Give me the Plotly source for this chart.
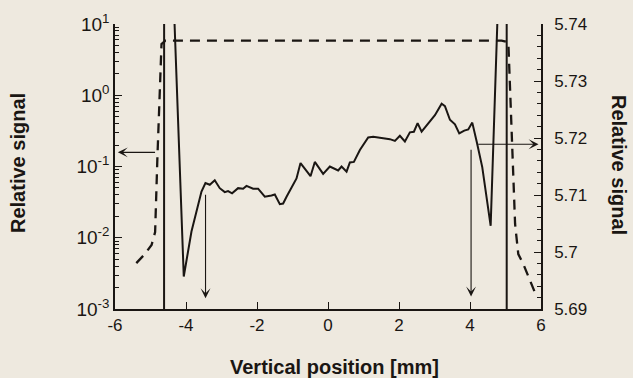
import math
import plotly.graph_objects as go

# Solid profile (right axis, linear scale)
solid_x = [-4.62, -4.615, -4.063, -3.846, -3.564, -3.452, -3.330, -3.190, -3.049, -2.908,
           -2.815, -2.702, -2.533, -2.392, -2.296, -2.110, -1.969, -1.780, -1.591, -1.498,
           -1.357, -1.264, -1.168, -1.027, -0.887, -0.774, -0.492, -0.371, -0.137, 0.052,
           0.145, 0.286, 0.382, 0.523, 0.616, 0.729, 0.898, 1.132, 1.273, 1.555,
           1.743, 1.885, 2.025, 2.166, 2.307, 2.420, 2.524, 2.637, 2.823, 3.012,
           3.201, 3.294, 3.435, 3.576, 3.697, 3.838, 3.951, 4.064, 4.188, 4.345,
           4.582, 5.033, 5.035]
solid_y = [5.60, 5.79, 5.6957, 5.7036, 5.7106, 5.7121, 5.7118, 5.7126, 5.7112, 5.7105,
           5.7107, 5.7103, 5.7112, 5.7111, 5.7116, 5.7111, 5.7111, 5.7097, 5.7099, 5.7101,
           5.7084, 5.7085, 5.7097, 5.7112, 5.7129, 5.7156, 5.7133, 5.7158, 5.7137, 5.7150,
           5.7147, 5.7143, 5.7150, 5.7141, 5.7157, 5.7158, 5.7179, 5.7201, 5.7202, 5.7199,
           5.7198, 5.7195, 5.7204, 5.7194, 5.7210, 5.7211, 5.7226, 5.7211, 5.7226, 5.7240,
           5.7260, 5.7256, 5.7232, 5.7224, 5.7208, 5.7213, 5.7215, 5.7227, 5.7194, 5.7149,
           5.7046, 5.79, 5.60]

# Dashed profile (left axis, log scale)
dashed_x = [-5.40, -5.16, -4.97, -4.87, -4.805, -4.74, -4.69, -4.58,
            4.89, 5.08, 5.13, 5.20, 5.27, 5.36, 5.50, 5.83]
dashed_y = [0.0044, 0.0059, 0.0079, 0.0120, 0.136, 1.16, 5.24, 5.83,
            5.83, 5.53, 1.16, 0.136, 0.0156, 0.0059, 0.0043, 0.0017]

# Axis ticks
x_ticks = [-6, -4, -2, 0, 2, 4, 6]
x_ticklabels = ["-6", "-4", "-2", "0", "2", "4", "6"]
left_ticks = [0.001, 0.01, 0.1, 1, 10]
left_ticklabels = ["10<sup>-3</sup>", "10<sup>-2</sup>", "10<sup>-1</sup>",
                   "10<sup>0</sup>", "10<sup>1</sup>"]

# Minor tick positions: 2..9 per decade on the log axis
left_minor = [k * 10.0 ** e for e in range(-3, 1) for k in range(2, 10)]

# Arrow markers: (tail x, tail y, tip x, tip y, axis)
arrows = [
    (-4.83, 0.158, -5.92, 0.158, "y"),
    (4.19, 5.7189, 5.93, 5.7189, "y2"),
    (-3.45, 5.7103, -3.45, 5.6919, "y2"),
    (4.03, 5.7182, 4.03, 5.6922, "y2"),
]

bg = "#eee9df"
ink = "#1a1613"
font_family = "Liberation Sans, Arial, sans-serif"

fig = go.Figure()
fig.add_trace(go.Scatter(x=dashed_x, y=dashed_y, mode="lines", yaxis="y",
                         line=dict(color=ink, width=2.3, dash="10px,7px"),
                         showlegend=False))
fig.add_trace(go.Scatter(x=solid_x, y=solid_y, mode="lines", yaxis="y2",
                         line=dict(color=ink, width=2), showlegend=False))

annotations = []
for tx, ty, hx, hy, ax_name in arrows:
    if ax_name == "y":
        ty_v, hy_v = math.log10(ty), math.log10(hy)
    else:
        ty_v, hy_v = ty, hy
    annotations.append(dict(x=hx, y=hy_v, ax=tx, ay=ty_v, xref="x", yref=ax_name,
                            axref="x", ayref=ax_name, text="", showarrow=True,
                            arrowhead=3, arrowsize=1.5, arrowwidth=1.1,
                            arrowcolor=ink, standoff=0, startstandoff=0))

title_font = dict(family=font_family, size=20, color=ink, weight="bold")
annotations.append(dict(text="Relative signal", textangle=-90, xref="paper", yref="paper",
                        x=(18 - 115) / 426, y=(309 - 163) / 285,
                        xanchor="center", yanchor="middle", showarrow=False,
                        font=title_font))
annotations.append(dict(text="Relative signal", textangle=90, xref="paper", yref="paper",
                        x=(619 - 115) / 426, y=(309 - 165) / 285,
                        xanchor="center", yanchor="middle", showarrow=False,
                        font=title_font))
annotations.append(dict(text="Vertical position [mm]", xref="paper", yref="paper",
                        x=(334 - 115) / 426, y=-(367 - 309) / 285,
                        xanchor="center", yanchor="middle", showarrow=False,
                        font=title_font))

tick_font = dict(family=font_family, size=17, color=ink)
minor_common = dict(ticks="inside", ticklen=4, tickwidth=1,
                    tickcolor=ink, showgrid=False)
major_common = dict(ticks="inside", ticklen=7, tickwidth=1.2, tickcolor=ink,
                    showline=True, linecolor=ink, linewidth=1.5,
                    showgrid=False, zeroline=False)

fig.update_layout(
    width=633, height=378,
    margin=dict(l=115, r=92, t=24, b=69, pad=0),
    paper_bgcolor=bg, plot_bgcolor=bg,
    showlegend=False,
    annotations=annotations,
    xaxis=dict(range=[-6, 6], tickmode="array", tickvals=x_ticks, ticktext=x_ticklabels,
               tickfont=tick_font, **major_common),
    yaxis=dict(type="log", range=[-3, 1], tickmode="array", tickvals=left_ticks,
               ticktext=left_ticklabels,
               minor=dict(tickmode="array", tickvals=left_minor, **minor_common),
               tickfont=dict(family=font_family, size=19, color=ink),
               **major_common),
    yaxis2=dict(range=[5.69, 5.74], overlaying="y", side="right",
                dtick=0.01, tick0=5.69, tickformat=".3~f",
                minor=dict(dtick=0.002, **minor_common),
                tickfont=tick_font, ticklabelstandoff=8, **major_common),
)

fig.write_html("out.html")
